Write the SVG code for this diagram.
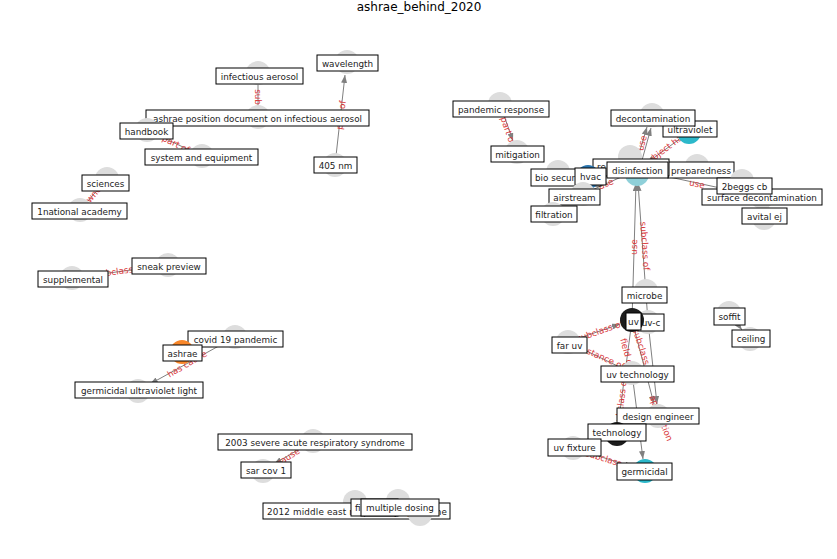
<svg xmlns="http://www.w3.org/2000/svg" width="837" height="559" viewBox="0 0 837 559">
<style>
text{font-family:"DejaVu Sans","Liberation Sans",sans-serif;}
.n{fill:#dddddd;}
.b{fill:#ffffff;stroke:#000000;stroke-width:1;}
.t{font-size:8.8px;fill:#222222;text-anchor:middle;}
.ts{font-size:8.8px;fill:#222222;text-anchor:start;}
.e{stroke:#808080;stroke-width:1;fill:none;}
.ea{stroke:#808080;stroke-width:1;fill:none;marker-end:url(#arr);}
.el{font-size:8.8px;fill:#d9383a;text-anchor:middle;}
</style>
<defs>
<marker id="arr" viewBox="0 0 8 6" refX="8" refY="3" markerWidth="8" markerHeight="6" markerUnits="userSpaceOnUse" orient="auto" preserveAspectRatio="none"><path d="M0,0 L8,3 L0,6 z" fill="#808080"/></marker>
</defs>
<rect width="837" height="559" fill="#ffffff"/>
<text x="419" y="11" font-size="12" text-anchor="middle" fill="#000">ashrae_behind_2020</text>

<g id="connectors">
<line class="ea" x1="335" y1="165" x2="345" y2="75"/>
<line class="e" x1="147" y1="130" x2="202" y2="156"/>
<line class="e" x1="258" y1="73" x2="258" y2="117"/>
<line class="e" x1="107" y1="179" x2="80" y2="210"/>
<line class="e" x1="168" y1="265" x2="72" y2="278"/>
<line class="ea" x1="235" y1="337" x2="150" y2="384"/>
<line class="ea" x1="313" y1="441" x2="274" y2="464"/>
<line class="ea" x1="500" y1="104" x2="513" y2="141"/>
<line class="ea" x1="634" y1="170" x2="647" y2="127"/>
<line class="ea" x1="639" y1="171" x2="651" y2="128"/>
<line class="ea" x1="689" y1="132" x2="647" y2="163"/>
<line class="e" x1="583" y1="194" x2="637" y2="170"/>
<line class="e" x1="637" y1="170" x2="762" y2="197"/>
<line class="ea" x1="632" y1="320" x2="636" y2="183"/>
<line class="ea" x1="648" y1="322" x2="638" y2="183"/>
<line class="ea" x1="568" y1="342" x2="620" y2="324"/>
<line class="e" x1="568" y1="342" x2="632" y2="373"/>
<line class="ea" x1="632" y1="320" x2="654" y2="404"/>
<line class="ea" x1="648" y1="322" x2="657" y2="404"/>
<line class="e" x1="617" y1="434" x2="632" y2="320"/>
<line class="ea" x1="632" y1="373" x2="643" y2="459"/>
<line class="ea" x1="573" y1="448" x2="633" y2="467"/>
<line class="ea" x1="729" y1="313" x2="742" y2="330"/>
<g id="edge-labels">
<text class="el" transform="translate(258,97) rotate(90)" y="3">sub</text>
<text class="el" transform="translate(341,115) rotate(-83)" y="3">part of</text>
<text class="el" transform="translate(176,144) rotate(26)" y="3">part of</text>
<text class="el" transform="translate(93,195) rotate(-50)" y="3">owner</text>
<text class="el" transform="translate(120,271) rotate(-8)" y="3">subclass of</text>
<text class="el" transform="translate(187,364) rotate(-30)" y="3">has cause</text>
<text class="el" transform="translate(288,457) rotate(-32)" y="3">cause</text>
<text class="el" transform="translate(508,131) rotate(71)" y="3">part of</text>
<text class="el" transform="translate(642,143) rotate(-75)" y="3">use</text>
<text class="el" transform="translate(665,149) rotate(-37)" y="3">subject has</text>
<text class="el" transform="translate(606,184) rotate(-23)" y="3">use</text>
<text class="el" transform="translate(697,184) rotate(12)" y="3">use</text>
<text class="el" transform="translate(634,247) rotate(-88)" y="3">use</text>
<text class="el" transform="translate(645,246) rotate(86)" y="3">subclass of</text>
<text class="el" transform="translate(600,331) rotate(-19)" y="3">subclass of</text>
<text class="el" transform="translate(602,357) rotate(24)" y="3">instance of</text>
<text class="el" transform="translate(627,353) rotate(75)" y="3">field of</text>
<text class="el" transform="translate(643,352) rotate(72)" y="3">subclass of</text>
<text class="el" transform="translate(621,402) rotate(-83)" y="3">subclass of</text>
<text class="el" transform="translate(661,418) rotate(68)" y="3">application</text>
<text class="el" transform="translate(609,460) rotate(17)" y="3">subclass of</text>
</g>
</g>

<g id="node-wavelength"><circle class="n" cx="347" cy="62" r="12"/><rect class="b" x="317" y="55" width="61" height="16"/><text class="t" x="347.5" y="66.5">wavelength</text></g>
<g id="node-infectious-aerosol"><circle class="n" cx="258" cy="73" r="12"/><rect class="b" x="216" y="68" width="87" height="16"/><text class="t" x="259.5" y="79.5">infectious aerosol</text></g>
<g id="node-ashrae-position-document"><circle class="n" cx="258" cy="117" r="12"/><rect class="b" x="146" y="110" width="223" height="16"/><text class="t" x="257.5" y="121.5">ashrae position document on infectious aerosol</text></g>
<g id="node-handbook"><circle class="n" cx="147" cy="130" r="12"/><rect class="b" x="120" y="123" width="53" height="16"/><text class="t" x="146.5" y="134.5">handbook</text></g>
<g id="node-system-and-equipment"><circle class="n" cx="202" cy="156" r="12"/><rect class="b" x="145" y="149" width="113" height="16"/><text class="t" x="201.5" y="160.5">system and equipment</text></g>
<g id="node-405-nm"><circle class="n" cx="335" cy="165" r="12"/><rect class="b" x="314" y="157" width="43" height="16"/><text class="t" x="335.5" y="168.5">405 nm</text></g>
<g id="node-sciences"><circle class="n" cx="107" cy="179" r="12"/><rect class="b" x="82" y="175" width="47" height="16"/><text class="t" x="105.5" y="186.5">sciences</text></g>
<g id="node-1national-academy"><circle class="n" cx="80" cy="210" r="12"/><rect class="b" x="32" y="203" width="95" height="16"/><text class="t" x="79.5" y="214.5">1national academy</text></g>
<g id="node-sneak-preview"><circle class="n" cx="168" cy="265" r="12"/><rect class="b" x="132" y="258" width="74" height="16"/><text class="t" x="169" y="269.5">sneak preview</text></g>
<g id="node-supplemental"><circle class="n" cx="72" cy="278" r="12"/><rect class="b" x="38" y="271" width="70" height="16"/><text class="t" x="73" y="282.5">supplemental</text></g>
<g id="node-covid-19-pandemic"><circle class="n" cx="235" cy="337" r="12"/><rect class="b" x="188" y="331" width="95" height="16"/><text class="t" x="235.5" y="342.5">covid 19 pandemic</text></g>
<g id="node-ashrae"><circle cx="182" cy="352" r="12" fill="#f8872a"/><rect class="b" x="163" y="345" width="39" height="16"/><text class="t" x="182.5" y="356.5">ashrae</text></g>
<g id="node-germicidal-ultraviolet-light"><circle class="n" cx="138" cy="391" r="12"/><rect class="b" x="75" y="382" width="128" height="16"/><text class="t" x="139" y="393.5">germicidal ultraviolet light</text></g>
<g id="node-2003-sars"><circle class="n" cx="313" cy="441" r="12"/><rect class="b" x="218" y="434" width="194" height="16"/><text class="t" x="315" y="445.5">2003 severe acute respiratory syndrome</text></g>
<g id="node-sar-cov-1"><circle class="n" cx="263" cy="471" r="12"/><rect class="b" x="241" y="462" width="50" height="16"/><text class="t" x="266" y="473.5">sar cov 1</text></g>
<g id="node-2012-middle-east"><circle class="n" cx="355" cy="502" r="12"/><rect class="b" x="263" y="503" width="187" height="16"/><text class="ts" x="267" y="514.5" textLength="180">2012 middle east respiratory syndrome</text></g>
<g id="node-fi"><circle class="n" cx="398" cy="501" r="12"/><rect class="b" x="351" y="499" width="47" height="17"/><text class="ts" x="355" y="511">fi</text></g>
<g id="node-multiple-dosing"><circle class="n" cx="420" cy="514" r="12"/><rect class="b" x="361" y="499" width="78" height="17"/><text class="t" x="400" y="511">multiple dosing</text></g>

<g id="node-pandemic-response"><circle class="n" cx="500" cy="104" r="12"/><rect class="b" x="453" y="101" width="96" height="16"/><text class="t" x="501" y="112.5">pandemic response</text></g>
<g id="node-mitigation"><circle class="n" cx="517" cy="152" r="12"/><rect class="b" x="491" y="146" width="53" height="16"/><text class="t" x="517.5" y="157.5">mitigation</text></g>
<g id="node-ultraviolet"><circle cx="689" cy="132" r="12" fill="#2cb8ca"/><rect class="b" x="663" y="121" width="54" height="16"/><text class="t" x="690" y="132.5">ultraviolet</text></g>
<g id="node-decontamination"><circle class="n" cx="652" cy="115" r="12"/><rect class="b" x="611" y="110" width="84" height="16"/><text class="t" x="653" y="121.5">decontamination</text></g>
<g id="node-preparedness"><circle class="n" cx="697" cy="166" r="12"/><rect class="b" x="668" y="162" width="66" height="16"/><text class="t" x="701" y="173.5">preparedness</text></g>
<g id="node-re"><circle class="n" cx="630" cy="157" r="12"/><rect class="b" x="593" y="159" width="76" height="17"/><text class="ts" x="597" y="170">re</text></g>
<g id="node-bio-security"><circle class="n" cx="558" cy="172" r="12"/><rect class="b" x="531" y="169" width="70" height="17"/><text class="ts" x="535" y="180.5">bio secur</text></g>
<g id="node-hvac"><circle cx="588" cy="177" r="12" fill="#2a74ad"/><rect class="b" x="575" y="168" width="31" height="17"/><text class="t" x="590.5" y="180">hvac</text></g>
<g id="node-disinfection"><circle cx="637" cy="174" r="12" fill="#8fd0d9"/><rect class="b" x="607" y="162" width="61" height="16"/><text class="t" x="637.5" y="173.5">disinfection</text></g>
<g id="node-airstream"><circle class="n" cx="583" cy="194" r="12"/><rect class="b" x="549" y="189" width="51" height="16"/><text class="t" x="574.5" y="200.5">airstream</text></g>
<g id="node-filtration"><circle class="n" cx="553" cy="214" r="12"/><rect class="b" x="531" y="206" width="46" height="16"/><text class="t" x="554" y="217.5">filtration</text></g>
<g id="node-surface-decontamination"><circle class="n" cx="762" cy="197" r="12"/><rect class="b" x="702" y="189" width="120" height="16"/><text class="t" x="762" y="200.5">surface decontamination</text></g>
<g id="node-2beggs-cb"><circle class="n" cx="742" cy="181" r="12"/><rect class="b" x="717" y="178" width="55" height="16"/><text class="t" x="744.5" y="189.5">2beggs cb</text></g>
<g id="node-avital-ej"><circle class="n" cx="764" cy="218" r="12"/><rect class="b" x="742" y="208" width="45" height="16"/><text class="t" x="764.5" y="219.5">avital ej</text></g>

<g id="node-microbe"><circle class="n" cx="646" cy="291" r="12"/><rect class="b" x="622" y="287" width="45" height="16"/><text class="t" x="644.5" y="298.5">microbe</text></g>
<g id="node-uv-c"><circle class="n" cx="648" cy="322" r="12"/><rect class="b" x="638" y="314" width="26" height="17"/><text class="t" x="651" y="326">uv-c</text></g>
<g id="node-uv"><circle cx="632" cy="320" r="12" fill="#1c1c1c"/><rect class="b" x="626" y="313" width="15" height="17"/><text class="t" x="633.5" y="325">uv</text></g>
<g id="node-far-uv"><circle class="n" cx="568" cy="342" r="12"/><rect class="b" x="552" y="337" width="35" height="16"/><text class="t" x="569.5" y="348.5">far uv</text></g>
<g id="node-uv-technology"><circle class="n" cx="632" cy="373" r="12"/><rect class="b" x="601" y="366" width="73" height="16"/><text class="t" x="637.5" y="377.5">uv technology</text></g>
<g id="node-design-engineer"><circle class="n" cx="658" cy="416" r="12"/><rect class="b" x="617" y="408" width="82" height="16"/><text class="t" x="658" y="419.5">design engineer</text></g>
<g id="node-technology"><circle cx="617" cy="434" r="12" fill="#1c1c1c"/><rect class="b" x="588" y="424" width="58" height="17"/><text class="t" x="617" y="436">technology</text></g>
<g id="node-uv-fixture"><circle class="n" cx="573" cy="448" r="12"/><rect class="b" x="548" y="439" width="53" height="17"/><text class="t" x="574.5" y="451">uv fixture</text></g>
<g id="node-germicidal"><circle cx="645" cy="471" r="12" fill="#2cb8ca"/><rect class="b" x="617" y="463" width="55" height="17"/><text class="t" x="644.5" y="475">germicidal</text></g>
<g id="node-soffit"><circle class="n" cx="729" cy="313" r="12"/><rect class="b" x="714" y="308" width="31" height="17"/><text class="t" x="729.5" y="320">soffit</text></g>
<g id="node-ceiling"><circle class="n" cx="750" cy="339" r="12"/><rect class="b" x="732" y="330" width="38" height="17"/><text class="t" x="751" y="342">ceiling</text></g>
</svg>
